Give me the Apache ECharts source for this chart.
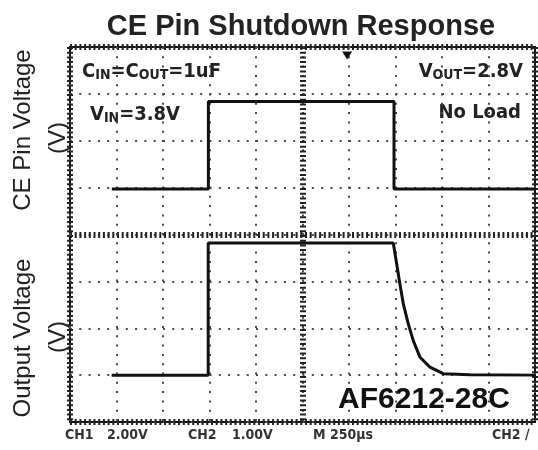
<!DOCTYPE html>
<html>
<head>
<meta charset="utf-8">
<script src="https://cdn.jsdelivr.net/npm/echarts@6/dist/echarts.min.js"></script>
<style>
  html, body { margin: 0; padding: 0; background: #fff; }
  #chart { width: 538px; height: 450px; }
</style>
</head>
<body>
<div id="chart"></div>
<script>
// time in microseconds (250 us / div), level in screen divisions from the bottom
const ceTime = [225, 744, 744, 1742, 1742, 2500];
const ceLevel = [4.97, 4.97, 6.84, 6.84, 4.97, 4.97];

const outTime = [224, 743, 743, 1738, 1756, 1774, 1792, 1819, 1846, 1882, 1935, 2007, 2151, 2500];
const outLevel = [1.0, 1.0, 3.82, 3.82, 3.38, 2.94, 2.52, 2.09, 1.73, 1.38, 1.17, 1.03, 1.01, 1.0];

const triggerTime = 1490;

const titleText = 'CE Pin Shutdown Response';
const axisNames = ['CE Pin Voltage', 'Output Voltage'];
const footLabels = ['CH1', '2.00V', 'CH2', '1.00V', 'M 250\u00b5s', 'CH2 \u2215'];
const partName = 'AF6212-28C';

const zip = (xs, ys) => xs.map((x, i) => [x, ys[i]]);

const scopeFont = '"Liberation Sans Narrow", "DejaVu Sans Condensed", "Liberation Sans", sans-serif';
const plainFont = '"Liberation Sans", Arial, sans-serif';

const chart = echarts.init(document.getElementById('chart'), null, { renderer: 'canvas' });

const dotted = { color: '#4a4a4a', width: 2, type: [2, 7.3] };
const ticked = { color: '#222', width: 6, type: [2, 2.7] };

function sideLabel(text, x, y) {
  return {
    type: 'text', x: x, y: y, rotation: Math.PI / 2,
    style: { text: text, font: '24px ' + plainFont, fill: '#222', align: 'center', verticalAlign: 'middle' }
  };
}

function scopeText(text, x) {
  return {
    type: 'text', x: x, y: 435,
    style: { text: text, font: 'bold 14px ' + scopeFont, fill: '#333', align: 'left', verticalAlign: 'middle' }
  };
}

function note(rich, x, y, align) {
  return {
    type: 'text', x: x, y: y,
    style: {
      text: rich, align: align || 'left', verticalAlign: 'middle', fill: '#222',
      rich: {
        b: { fontSize: 20, fontWeight: 'bold', fontFamily: scopeFont, fill: '#222' },
        s: { fontSize: 14, fontWeight: 'bold', fontFamily: scopeFont, fill: '#222', verticalAlign: 'bottom' }
      }
    }
  };
}

const option = {
  animation: false,
  backgroundColor: '#fff',
  title: {
    text: titleText,
    left: 296,
    textAlign: 'center',
    top: 7,
    textStyle: { fontFamily: plainFont, fontSize: 29, fontWeight: 'bold', color: '#222' }
  },
  grid: {
    left: 70, top: 47, right: 3, bottom: 28,
    show: true, borderColor: '#111', borderWidth: 2, backgroundColor: 'transparent'
  },
  xAxis: [
    {
      type: 'value', min: 0, max: 2500, interval: 250,
      axisLine: { show: false }, axisTick: { show: false }, axisLabel: { show: false },
      splitLine: { show: true, lineStyle: dotted }
    },
    {
      type: 'value', min: 0, max: 2500, interval: 1250, position: 'top',
      axisLine: { show: false }, axisTick: { show: false }, axisLabel: { show: false },
      splitLine: { show: true, lineStyle: ticked }
    }
  ],
  yAxis: [
    {
      type: 'value', min: 0, max: 8, interval: 1,
      axisLine: { show: false }, axisTick: { show: false }, axisLabel: { show: false },
      splitLine: { show: true, lineStyle: dotted }
    },
    {
      type: 'value', min: 0, max: 8, interval: 4, position: 'right',
      axisLine: { show: false }, axisTick: { show: false }, axisLabel: { show: false },
      splitLine: { show: true, lineStyle: ticked }
    }
  ],
  series: [
    {
      name: 'CE', type: 'line', xAxisIndex: 0, yAxisIndex: 0,
      data: zip(ceTime, ceLevel), showSymbol: false, symbol: 'none',
      lineStyle: { color: '#111', width: 3 },
      markPoint: {
        symbol: 'triangle', symbolRotate: 180, symbolSize: [10, 8],
        itemStyle: { color: '#111' }, label: { show: false },
        data: [{ coord: [triggerTime, 7.82] }]
      }
    },
    {
      name: 'Output', type: 'line', xAxisIndex: 0, yAxisIndex: 0,
      data: zip(outTime, outLevel), showSymbol: false, symbol: 'none',
      lineStyle: { color: '#111', width: 3 }
    }
  ],
  graphic: [
    sideLabel(axisNames[0], 23, 130),
    sideLabel('(V)', 58, 138),
    sideLabel(axisNames[1], 23, 338),
    sideLabel('(V)', 58, 337),
    note('{b|C}{s|IN}{b|=C}{s|OUT}{b|=1uF}', 82, 72),
    note('{b|V}{s|IN}{b|=3.8V}', 90, 115),
    note('{b|V}{s|OUT}{b|=2.8V}', 523, 72, 'right'),
    note('{b|No Load}', 521, 113, 'right'),
    {
      type: 'text', x: 424, y: 400,
      style: {
        text: partName, font: 'bold 30px ' + plainFont, fill: '#111',
        align: 'center', verticalAlign: 'middle',
        backgroundColor: '#fff', padding: [3, 6, 3, 6]
      }
    },
    scopeText(footLabels[0], 65),
    scopeText(footLabels[1], 107),
    scopeText(footLabels[2], 188),
    scopeText(footLabels[3], 232),
    scopeText(footLabels[4], 313),
    scopeText(footLabels[5], 492)
  ]
};

chart.setOption(option);
</script>
</body>
</html>
